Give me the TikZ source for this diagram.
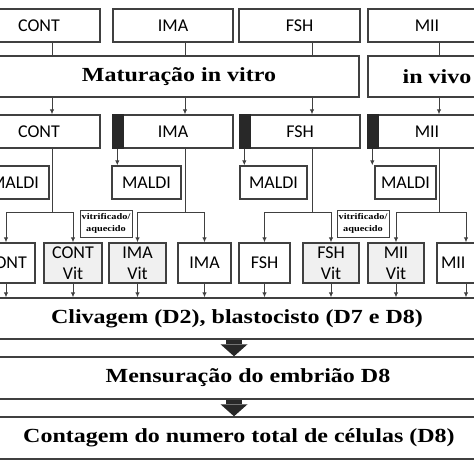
\documentclass[tikz,border=0pt]{standalone}
\usepackage{fontspec}
\newfontfamily\labelfont{Carlito}
\newfontfamily\titlefont[FakeStretch=1.2]{Liberation Serif}
\usetikzlibrary{arrows.meta,positioning,calc}
\definecolor{linegray}{RGB}{64,64,64}
\definecolor{bargray}{RGB}{40,40,40}
\definecolor{vitgray}{RGB}{240,240,240}
\tikzset{
  box/.style={draw=linegray, line width=1.4pt, align=center, minimum height=33pt, inner sep=0pt, font=\labelfont\fontsize{18}{21}\selectfont},
  cell/.style={box, minimum height=40pt},
  vitcell/.style={cell, fill=vitgray},
  band/.style={draw=linegray, line width=1.4pt, minimum height=41pt, inner sep=0pt, font=\titlefont\bfseries\fontsize{20}{24}\selectfont},
  tag/.style={draw=linegray, line width=0.8pt, fill=white, align=center, minimum width=52pt, minimum height=27pt, inner sep=0pt, font=\titlefont\bfseries\fontsize{8.6}{12}\selectfont},
  link/.style={draw=linegray, line width=0.9pt},
  arrow/.style={link, -{Latex[length=5pt, width=4.5pt]}},
  bigarrow/.style={draw=bargray, line width=16pt, -{Triangle[length=12pt, width=27pt, line width=0pt]}},
}

\begin{document}
\begin{tikzpicture}[x=1pt, y=-1pt]
  \clip (0,0) rectangle (474,474);
  \node[box, minimum width=122pt] (cont1) at (39,25.5) {CONT};
  \node[box, minimum width=120pt] (ima1) at (173,25.5) {IMA};
  \node[box, minimum width=121pt] (fsh1) at (299.5,25.5) {FSH};
  \node[box, minimum width=118pt] (mii1) at (427,25.5) {MII};
  \node[band, minimum width=360pt] (ivt) at (179,76.5) {Maturação in vitro};
  \node[band, minimum width=138pt] (ivv) at (437,76.5) {in vivo};
  \node[box, minimum width=122pt] (cont2) at (39,131.5) {CONT};
  \node[box, minimum width=120pt] (ima2) at (173,131.5) {IMA};
  \node[box, minimum width=120pt] (fsh2) at (300,131.5) {FSH};
  \node[box, minimum width=118pt] (mii2) at (427,131.5) {MII};
  \foreach \n in {ima2,fsh2,mii2}
    \fill[bargray] (\n.north west) rectangle ([xshift=12pt]\n.south west);
  \node[box, minimum width=69pt] (maldi1) at (14.5,182.5) {MALDI};
  \node[box, minimum width=69pt] (maldi2) at (146.5,182.5) {MALDI};
  \node[box, minimum width=67pt] (maldi3) at (273.5,182.5) {MALDI};
  \node[box, minimum width=61pt] (maldi4) at (405.5,182.5) {MALDI};
  \coordinate (sp1) at (52,212);
  \coordinate (sp2) at (185,212);
  \coordinate (sp3) at (312,212);
  \coordinate (sp4) at (439,212);
  \node[tag] (vit1) at (106,223.5) {vitrificado/\\aquecido};
  \node[tag] (vit2) at (363,223.5) {vitrificado/\\aquecido};
  \node[cell, minimum width=58pt] (cont3) at (6,263) {CONT};
  \node[vitcell, minimum width=58pt] (contv) at (73,263) {CONT\\Vit};
  \node[vitcell, minimum width=57pt] (imav) at (137.5,263) {IMA\\Vit};
  \node[cell, minimum width=53pt] (ima3) at (204.5,263) {IMA};
  \node[cell, minimum width=51pt] (fsh3) at (264.5,263) {FSH};
  \node[vitcell, minimum width=56pt] (fshv) at (331,263) {FSH\\Vit};
  \node[vitcell, minimum width=56pt] (miiv) at (396,263) {MII\\Vit};
  \node[cell, minimum width=58pt, text width=50pt, align=left] (mii3) at (466,263) {MII};
  \node[band, minimum width=494pt] (cliv) at (237,318.5) {Clivagem (D2), blastocisto (D7 e D8)};
  \node[band, minimum width=520pt, minimum height=42pt] (mens) at (248,378) {Mensuração do embrião D8};
  \node[band, minimum width=494pt, minimum height=42pt] (cells) at (239,438) {Contagem do numero total de células (D8)};
  \foreach \a/\b/\c/\s in {cont1/ivt/cont2/sp1, ima1/ivt/ima2/sp2, fsh1/ivt/fsh2/sp3, mii1/ivv/mii2/sp4} {
    \draw[link] (\a.south -| \s) -- (\b.north -| \s);
    \draw[arrow] (\b.south -| \s) -- (\c.north -| \s);
    \draw[link] (\c.south -| \s) -- (\s);
  }
  \foreach \n/\m in {ima2/maldi2, fsh2/maldi3, mii2/maldi4}
    \draw[arrow] ([xshift=5pt]\n.south west) -- ([xshift=5pt]\n.south west |- \m.north);
  \foreach \s/\l/\r in {sp1/cont3/contv, sp2/imav/ima3, sp3/fsh3/fshv, sp4/miiv/mii3} {
    \draw[arrow] (\s) -| (\l.north);
    \draw[arrow] (\s) -| (\r.north);
  }
  \foreach \n in {cont3,contv,imav,ima3,fsh3,fshv,miiv,mii3}
    \draw[arrow] (\n.south) -- (\n.south |- cliv.north);
  \coordinate (mid) at (234,0);
  \draw[bigarrow] (cliv.south -| mid) -- (mens.north -| mid);
  \draw[bigarrow] (mens.south -| mid) -- (cells.north -| mid);
\end{tikzpicture}
\end{document}
